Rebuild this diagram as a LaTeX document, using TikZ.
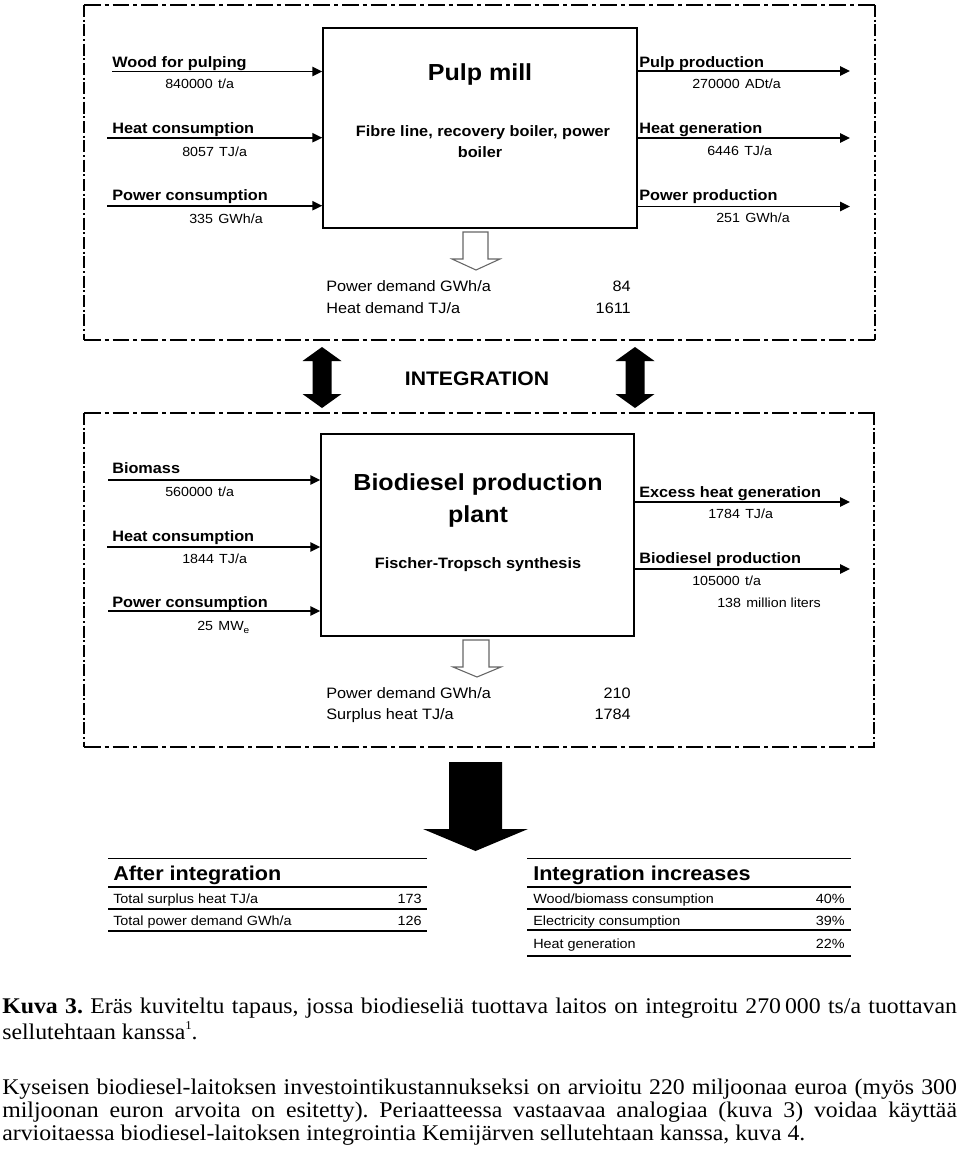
\documentclass[tikz,border=0pt]{standalone}
\usepackage{fontspec}
\setmainfont{Liberation Sans}[FakeStretch=1.08]
\newfontfamily\capfont{Liberation Serif}
\usetikzlibrary{arrows.meta,fit}
\frenchspacing
\newlength\capw
\newcommand\capS{1}
\newcommand\capJ{716pt}
\AtBeginDocument{%
  \settowidth\capw{\capfont\fontsize{16.8}{20}\selectfont arvioitaessa biodiesel-laitoksen integrointia Kemij\"arven sellutehtaan kanssa, kuva 4.}%
  \pgfmathsetmacro\capS{602.25/\capw}%
  \pgfmathsetlengthmacro\capJ{716/\capS}%
  \global\let\capS\capS \global\let\capJ\capJ}
\begin{document}
\begin{tikzpicture}[x=0.75pt,y=-0.75pt,
  lbl/.style={anchor=base west,inner sep=0pt,font=\fontsize{11.3}{13}\selectfont\bfseries},
  val/.style={anchor=base west,inner sep=0pt,font=\fontsize{9.9}{12}\selectfont},
  dem/.style={inner sep=0pt,font=\fontsize{11.3}{13}\selectfont},
  ttl/.style={anchor=base,inner sep=0pt,font=\fontsize{17.4}{20}\selectfont\bfseries},
  sub/.style={anchor=base,inner sep=0pt,font=\fontsize{11.3}{13}\selectfont\bfseries},
  tth/.style={anchor=base west,inner sep=0pt,font=\fontsize{15}{17}\selectfont\bfseries},
  trow/.style={inner sep=0pt,font=\fontsize{10}{12}\selectfont},
  captxt/.style={anchor=base west,inner sep=0pt},
  flow/.style={line width=1.2pt,-{Triangle[length=7.5pt,width=7pt]}},
  plantbox/.style={draw,line width=1.1pt,inner sep=0pt},
  dashH/.style={line width=2pt,dash pattern=on 12.5pt off 3pt on 3pt off 3pt},
  dashV/.style={line width=1pt,dash pattern=on 9pt off 2pt on 1.5pt off 2pt},
  hollow/.style={draw=black!60,fill=white,line width=0.8pt},
  thinrule/.style={line width=0.8pt},
  thickrule/.style={line width=2.2pt}]
\useasboundingbox (0,0) rectangle (960,1158);

% ---------- top dashed frame
\draw[dashH] (84,5) -- (875,5);
\draw[dashH] (84,340) -- (875,340);
\draw[dashV] (84,5) -- (84,340);
\draw[dashV] (875,5) -- (875,340);

% pulp mill box
\node[plantbox,fit={(323,28) (637,228)}] (pm) {};
\node[ttl] (pmT) at (480,80) {Pulp mill};
\node[sub] (pmS1) at (483,136) {Fibre line, recovery boiler, power};
\node[sub] (pmS2) at (480,157) {boiler};

% inputs
\coordinate (wIn) at (112,71.5);
\coordinate (hIn) at (107,137.7);
\coordinate (pIn) at (107,205.7);
\draw[flow] (wIn) -- (wIn -| pm.west);
\draw[flow] (hIn) -- (hIn -| pm.west);
\draw[flow] (pIn) -- (pIn -| pm.west);
\node[lbl] (wL) at (112,67) {Wood for pulping};
\node[val] (wV) at (165,88) {840000\hspace{0.4em}t/a};
\node[lbl] (hL) at (112,133) {Heat consumption};
\node[val] (hV) at (182,156) {8057\hspace{0.4em}TJ/a};
\node[lbl] (pL) at (112,200) {Power consumption};
\node[val] (pV) at (189,223) {335\hspace{0.4em}GWh/a};

% outputs
\coordinate (ppOut) at (850,71);
\coordinate (hgOut) at (850,138);
\coordinate (poOut) at (850,206.5);
\draw[flow] (ppOut -| pm.east) -- (ppOut);
\draw[flow] (hgOut -| pm.east) -- (hgOut);
\draw[flow] (poOut -| pm.east) -- (poOut);
\node[lbl] (ppL) at (639,67) {Pulp production};
\node[val] (ppV) at (692,88) {270000\hspace{0.4em}ADt/a};
\node[lbl] (hgL) at (639,133) {Heat generation};
\node[val] (hgV) at (707,155) {6446\hspace{0.4em}TJ/a};
\node[lbl] (poL) at (639,200) {Power production};
\node[val] (poV) at (716,222) {251\hspace{0.4em}GWh/a};

% hollow arrow + demand
\draw[hollow] (463,232) -- (488,232) -- (488,259) -- (500,259) -- (476,270) -- (452,259) -- (463,259) -- cycle;
\node[dem,anchor=base west] (d1) at (326,291) {Power demand GWh/a};
\node[dem,anchor=base east] (d1v) at (631,291) {84};
\node[dem,anchor=base west] (d2) at (326,313) {Heat demand TJ/a};
\node[dem,anchor=base east] (d2v) at (631,313) {1611};

% ---------- integration
\fill (322,347) -- (341.5,361) -- (331.5,361) -- (331.5,394) -- (341.5,394) -- (322,408) -- (302.5,394) -- (312.5,394) -- (312.5,361) -- (302.5,361) -- cycle;
\fill (635,347) -- (654.5,361) -- (644.5,361) -- (644.5,394) -- (654.5,394) -- (635,408) -- (615.5,394) -- (625.5,394) -- (625.5,361) -- (615.5,361) -- cycle;
\node[anchor=base,inner sep=0pt,font=\fontsize{14.7}{17}\selectfont\bfseries] (integ) at (477,385) {INTEGRATION};

% ---------- bottom dashed frame
\draw[dashH] (84,413) -- (875,413);
\draw[dashH] (84,747) -- (875,747);
\draw[dashV] (84,413) -- (84,747);
\draw[dashV] (874,413) -- (874,747);

\node[plantbox,fit={(321,434) (634,636)}] (bd) {};
\node[ttl] (bdT1) at (478,490) {Biodiesel production};
\node[ttl] (bdT2) at (478,522) {plant};
\node[sub] (bdS) at (478,568) {Fischer-Tropsch synthesis};

\coordinate (bIn) at (108,480);
\coordinate (bhIn) at (107,547);
\coordinate (bpIn) at (108,611);
\draw[flow] (bIn) -- (bIn -| bd.west);
\draw[flow] (bhIn) -- (bhIn -| bd.west);
\draw[flow] (bpIn) -- (bpIn -| bd.west);
\node[lbl] (bL) at (112,473) {Biomass};
\node[val] (bV) at (165,496) {560000\hspace{0.4em}t/a};
\node[lbl] (bhL) at (112,541) {Heat consumption};
\node[val] (bhV) at (182,563) {1844\hspace{0.4em}TJ/a};
\node[lbl] (bpL) at (112,607) {Power consumption};
\node[val] (bpV) at (197,630) {25\hspace{0.4em}MW\raisebox{-0.45ex}{\fontsize{7}{8}\selectfont e}};

\coordinate (exOut) at (850,502);
\coordinate (bdOut) at (850,569);
\draw[flow] (exOut -| bd.east) -- (exOut);
\draw[flow] (bdOut -| bd.east) -- (bdOut);
\node[lbl] (exL) at (639,497) {Excess heat generation};
\node[val] (exV) at (708,518) {1784\hspace{0.4em}TJ/a};
\node[lbl] (bdL) at (639,563) {Biodiesel production};
\node[val] (bdV1) at (692,585) {105000\hspace{0.4em}t/a};
\node[val] (bdV2) at (717,607) {138\hspace{0.4em}million liters};

\draw[hollow] (463,640) -- (489,640) -- (489,667) -- (501,667) -- (477,677) -- (453,667) -- (463,667) -- cycle;
\node[dem,anchor=base west] (e1) at (326,698) {Power demand GWh/a};
\node[dem,anchor=base east] (e1v) at (631,698) {210};
\node[dem,anchor=base west] (e2) at (326,719) {Surplus heat TJ/a};
\node[dem,anchor=base east] (e2v) at (631,719) {1784};

% big arrow
\fill (449,762) -- (502,762) -- (502,829) -- (528,829) -- (475.5,851) -- (423,829) -- (449,829) -- cycle;

% ---------- tables
\draw[thinrule,line width=1pt] (108,858.5) -- (427,858.5);
\node[tth] (aT) at (113,880) {After integration};
\draw[thickrule] (108,887) -- (427,887);
\node[trow,anchor=base west] (a1) at (113,903) {Total surplus heat TJ/a};
\node[trow,anchor=base east] (a1v) at (422,903) {173};
\draw[thinrule] (108,909) -- (427,909);
\node[trow,anchor=base west] (a2) at (113,925) {Total power demand GWh/a};
\node[trow,anchor=base east] (a2v) at (422,925) {126};
\draw[thickrule] (108,931) -- (427,931);

\draw[thinrule,line width=1pt] (527,858.5) -- (851,858.5);
\node[tth] (iT) at (533,880) {Integration increases};
\draw[thickrule] (527,887) -- (851,887);
\node[trow,anchor=base west] (i1) at (533,903) {Wood/biomass consumption};
\node[trow,anchor=base east] (i1v) at (845,903) {40\%};
\draw[thinrule] (527,909) -- (851,909);
\node[trow,anchor=base west] (i2) at (533,925) {Electricity consumption};
\node[trow,anchor=base east] (i2v) at (845,925) {39\%};
\draw[thickrule] (527,930) -- (851,930);
\node[trow,anchor=base west] (i3) at (533,948) {Heat generation};
\node[trow,anchor=base east] (i3v) at (845,948) {22\%};
\draw[thinrule] (527,956) -- (851,956);

% ---------- caption text
\node[captxt] (c1) at (2,1013) {\capfont\fontsize{16.8}{20}\selectfont\scalebox{\capS}[1]{\makebox[\capJ][s]{\textbf{Kuva 3.} Er\"as kuviteltu tapaus, jossa biodieseli\"a tuottava laitos on integroitu 270\,000 ts/a tuottavan}}};
\node[captxt] (c2) at (2,1039) {\capfont\fontsize{16.8}{20}\selectfont\scalebox{\capS}[1]{sellutehtaan kanssa\raisebox{0.9ex}{\fontsize{9}{10}\selectfont 1}.}};
\node[captxt] (p1) at (2,1094) {\capfont\fontsize{16.8}{20}\selectfont\scalebox{\capS}[1]{\makebox[\capJ][s]{Kyseisen biodiesel-laitoksen investointikustannukseksi on arvioitu 220 miljoonaa euroa (my\"os 300}}};
\node[captxt] (p2) at (2,1117) {\capfont\fontsize{16.8}{20}\selectfont\scalebox{\capS}[1]{\makebox[\capJ][s]{miljoonan euron arvoita on esitetty). Periaatteessa vastaavaa analogiaa (kuva 3) voidaa k\"aytt\"a\"a}}};
\node[captxt] (p3) at (2,1140) {\capfont\fontsize{16.8}{20}\selectfont\scalebox{\capS}[1]{arvioitaessa biodiesel-laitoksen integrointia Kemij\"arven sellutehtaan kanssa, kuva 4.}};
\end{tikzpicture}
\end{document}
